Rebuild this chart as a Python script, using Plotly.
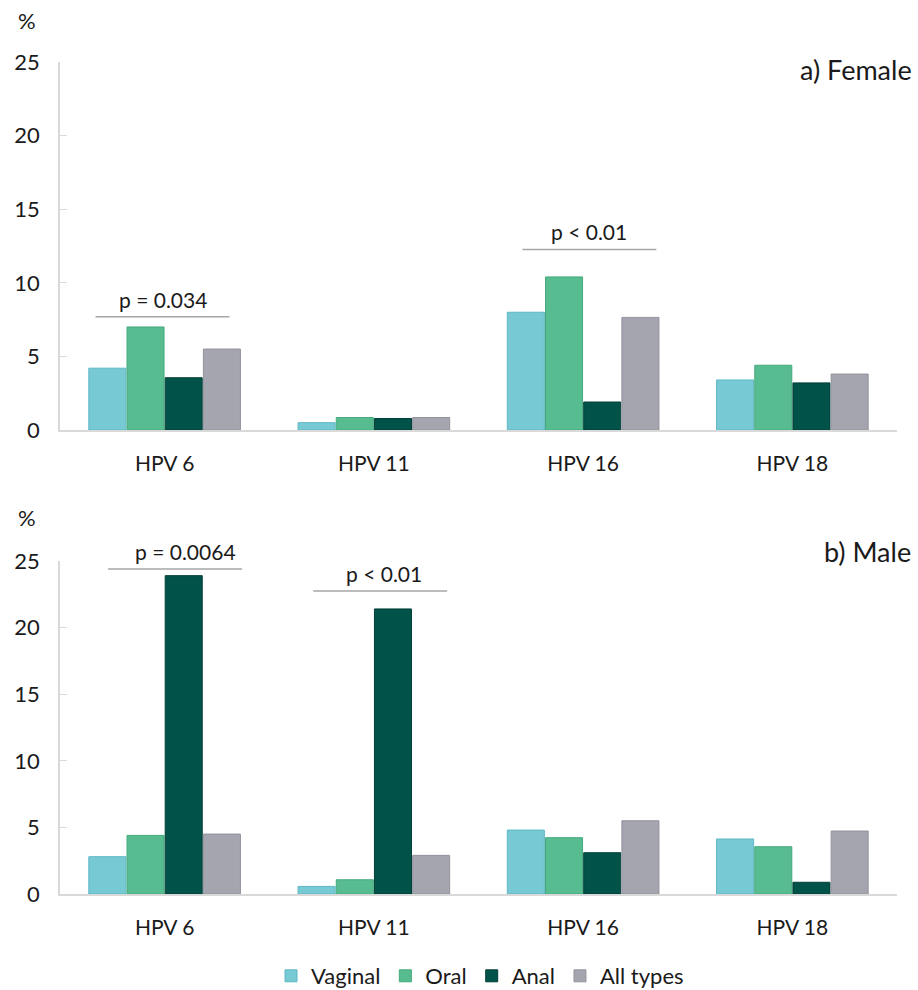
import plotly.graph_objects as go
from plotly.subplots import make_subplots

categories = ["HPV 6", "HPV 11", "HPV 16", "HPV 18"]
series_names = ["Vaginal", "Oral", "Anal", "All types"]
colors = ["#77C9D4", "#57BC90", "#015249", "#A5A5AF"]
outline = ["#5FB8C4", "#46AA7E", "#013F38", "#93939D"]

female_vaginal = [4.2, 0.5, 8.0, 3.4]
female_oral = [7.0, 0.85, 10.4, 4.4]
female_anal = [3.55, 0.78, 1.9, 3.2]
female_all = [5.5, 0.85, 7.65, 3.8]

male_vaginal = [2.8, 0.57, 4.8, 4.13]
male_oral = [4.4, 1.07, 4.23, 3.55]
male_anal = [23.9, 21.4, 3.1, 0.88]
male_all = [4.5, 2.9, 5.5, 4.73]

y_ticks = [0, 5, 10, 15, 20, 25]

# p-value brackets: (row, category index, centre offset, line level, label, label shift px)
brackets = [
    (1, 0, -0.01, 7.7, "p = 0.034", 0),
    (1, 2, 0.03, 12.27, "p < 0.01", 0),
    (2, 0, 0.05, 24.4, "p = 0.0064", 10),
    (2, 1, 0.03, 22.75, "p < 0.01", 4),
]
half_width = 0.32

FONT = "Lato, 'Open Sans', sans-serif"
TXT = "#1a1a1a"

fig = make_subplots(rows=2, cols=1, shared_xaxes=False, vertical_spacing=0.1)

panels = [
    (1, [female_vaginal, female_oral, female_anal, female_all]),
    (2, [male_vaginal, male_oral, male_anal, male_all]),
]
for row, vals in panels:
    for i, name in enumerate(series_names):
        fig.add_trace(
            go.Bar(
                x=categories, y=vals[i], name=name,
                marker=dict(color=colors[i], line=dict(color=outline[i], width=1)),
                showlegend=(row == 1), legendgroup=name,
            ),
            row=row, col=1,
        )

for row, ci, off, lvl, label, shift in brackets:
    xc = ci + off
    xref = "x" if row == 1 else "x2"
    yref = "y" if row == 1 else "y2"
    fig.add_shape(type="line", xref=xref, yref=yref,
                  x0=xc - half_width, x1=xc + half_width, y0=lvl, y1=lvl,
                  line=dict(color="#A6A6A6", width=1.5))
    fig.add_annotation(xref=xref, yref=yref, x=xc, y=lvl, text=label,
                       showarrow=False, yanchor="bottom", yshift=3, xshift=shift,
                       font=dict(family=FONT, size=21, color=TXT))

# layout geometry
W, H = 918, 990
ml, mr, mt, mb = 60, 21, 62, 96
ph = H - mt - mb
pw = W - ml - mr

def py(pix):
    return (H - mb - pix) / ph

def px(pix):
    return (pix - ml) / pw

fig.update_layout(
    width=W, height=H,
    margin=dict(l=ml, r=mr, t=mt, b=mb, autoexpand=False),
    paper_bgcolor="white", plot_bgcolor="white",
    barmode="group", bargap=0.27, bargroupgap=0.03,
    font=dict(family=FONT, size=21, color=TXT),
    legend=dict(orientation="h", x=px(480), xanchor="center",
                y=py(976), yanchor="middle", font=dict(size=22, color=TXT),
                itemwidth=30, tracegroupgap=0),
    xaxis=dict(domain=[0, 1]),
    yaxis=dict(domain=[py(430), 1.0]),
    xaxis2=dict(domain=[0, 1]),
    yaxis2=dict(domain=[0, py(561)]),
)

for ax in ["xaxis", "xaxis2"]:
    fig.update_layout({ax: dict(showline=True, linecolor="#D9D9D9", linewidth=1.5,
                                 ticks="", showgrid=False, range=[-0.5, 3.5],
                                 ticklabelstandoff=14, automargin=False,
                                 tickfont=dict(family=FONT, size=21, color=TXT))})
for ax in ["yaxis", "yaxis2"]:
    fig.update_layout({ax: dict(range=[0, 25], tickvals=y_ticks, showline=True,
                                 linecolor="#D9D9D9", linewidth=1.5, ticks="inside",
                                 ticklen=7, tickcolor="#D9D9D9", showgrid=False,
                                 zeroline=False, ticklabelstandoff=14, automargin=False,
                                 tickfont=dict(family=FONT, size=22, color=TXT))})

# "%" unit labels and panel titles
for pix_y in [20, 517]:
    fig.add_annotation(xref="paper", yref="paper", x=px(27), y=py(pix_y),
                       text="%", showarrow=False, xanchor="center", yanchor="middle",
                       font=dict(family=FONT, size=22, color=TXT))
fig.add_annotation(xref="paper", yref="paper", x=px(914), y=py(70),
                   text="a) Female", showarrow=False, xanchor="right", yanchor="middle",
                   font=dict(family=FONT, size=27, color=TXT))
fig.add_annotation(xref="paper", yref="paper", x=px(913), y=py(551),
                   text="b) Male", showarrow=False, xanchor="right", yanchor="middle",
                   font=dict(family=FONT, size=27, color=TXT))

# remove the browser's default 8px body margin so the figure fills the window exactly
fig.write_html("out.html", config={"displayModeBar": False},
               post_script="document.body.style.margin='0';")
